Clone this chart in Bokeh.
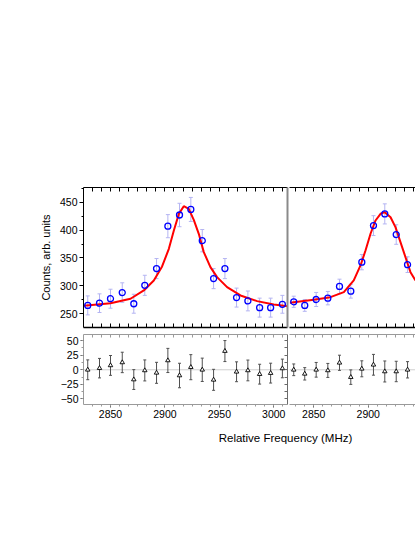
from bokeh.plotting import figure
from bokeh.models import (Range1d, Whisker, TeeHead, ColumnDataSource, LinearAxis,
                          Span, Label, SingleIntervalTicker, FixedTicker)
from bokeh.layouts import column, row
from bokeh.embed import file_html
from bokeh.resources import INLINE

# ---------------- data ----------------
freq_left = [2829.1, 2839.9, 2850.0, 2860.8, 2871.4, 2881.5, 2892.3, 2902.7, 2913.4,
             2923.8, 2934.3, 2944.7, 2955.1, 2965.8, 2976.2, 2987.0, 2997.1, 3007.9]
counts_left = [265, 269, 277, 288, 268, 301, 331, 407, 427, 437, 381, 313, 331, 279,
               273, 261, 261, 267]
err_left = [17, 16.7, 17, 17.5, 17, 18, 18, 20.7, 21, 21.5, 20, 18, 18, 17, 17.8, 17, 17, 16]
resid_left = [0, 2.8, 7.5, 12.6, -16.7, -1.1, -5.2, 16, -9.8, 4.5, 0, -17.2, 32.1,
              -3.4, -1.1, -7.5, -5.7, 2.3]

fit_left_x = [2825.5, 2850, 2868.4, 2880.6, 2889.8, 2897.4, 2903.6, 2908.2, 2912.8,
              2917.3, 2921.9, 2926.5, 2931.1, 2935.7, 2941.8, 2947.9, 2957.1, 2969.4,
              2984.7, 3000, 3014.4]
fit_left_y = [264.3, 268.9, 276.9, 291.8, 309.7, 334.8, 366.4, 399.3, 429, 442.8, 438,
              418.4, 393.3, 360.5, 333.6, 315.7, 297.8, 282.8, 272.7, 266.7, 263.1]

freq_right = [2831.6, 2841.7, 2852.2, 2862.9, 2873.6, 2884.0, 2894.1, 2904.8, 2915.2,
              2925.7, 2936.1]
counts_right = [271.5, 265, 275.6, 278, 299, 290.5, 342.5, 408, 429, 392, 338]
err_right = [10, 10.6, 12.6, 12, 13, 12.4, 13.7, 17.8, 18, 17.5, 14]
resid_right = [0, -6.9, 0, -1.1, 12, -12.6, 1.7, 8.6, -2.9, -2.9, 0]

fit_right_x = [2828.0, 2850, 2865.3, 2877.6, 2886.7, 2892.9, 2897.5, 2902.1, 2906.7,
               2911.3, 2915.2, 2920.5, 2925.0, 2929.6, 2934.2, 2938.8, 2943.4]
fit_right_y = [269.7, 275.1, 279.8, 288.7, 309.7, 336.6, 363.4, 393.4, 417.2, 429.2,
               432.1, 423.1, 405.2, 378.3, 351.4, 324.6, 309.7]

x_ticks = [2850, 2900, 2950, 3000]
resid_ticks = [-50, -25, 0, 25, 50]

FONT = "Liberation Sans"
TICK_FS = "10.5px"

X_MINOR = [2800 + 50 / 6 * k for k in range(0, 31)]      # minor x tick positions
RES_MINOR = [-50 + 12.5 * k for k in range(0, 9)]


def style_axis(ax, color="black", tick_in=0, tick_out=0, width=1, minor_len=None):
    ax.axis_line_color = color
    ax.axis_line_width = width
    ax.major_tick_line_color = color
    ax.minor_tick_line_color = color
    ax.major_tick_in = tick_in
    ax.major_tick_out = tick_out
    ml = minor_len if minor_len is not None else 2
    ax.minor_tick_in = ml if tick_in else 0
    ax.minor_tick_out = ml if tick_out else 0
    ax.major_label_text_font = FONT
    ax.major_label_text_font_size = TICK_FS
    ax.major_label_text_color = "black"
    ax.major_label_standoff = 2


def bare_axis(minor_ticks, color, width=1, tick_in=0):
    # axis with only (unlabelled) minor ticks
    ax = LinearAxis(ticker=FixedTicker(ticks=[], minor_ticks=minor_ticks))
    ax.axis_line_color = color
    ax.axis_line_width = width
    ax.minor_tick_line_color = color if tick_in else None
    ax.major_tick_line_color = None
    ax.minor_tick_in = tick_in
    ax.minor_tick_out = 0
    ax.major_tick_in = 0
    ax.major_tick_out = 0
    ax.major_label_standoff = 0
    return ax


def make_top(xr, freq, counts, err, fitx, fity, left):
    p = figure(frame_width=204 if left else 126, frame_height=140,
               x_range=xr, y_range=Range1d(225.4, 476.3),
               output_backend="svg", toolbar_location=None,
               min_border_left=83 if left else 0, min_border_right=2 if left else 0,
               min_border_top=187, min_border_bottom=7,
               x_axis_location=None,
               y_axis_location="left" if left else None,
               outline_line_color=None, background_fill_color="white",
               border_fill_color="white")
    p.xgrid.visible = False
    p.ygrid.visible = False
    p.add_layout(bare_axis(X_MINOR, "black", width=1.3, tick_in=4), "below")
    p.add_layout(bare_axis(X_MINOR, "black", width=1, tick_in=4), "above")
    if left:
        ya = p.yaxis[0]
        ya.ticker = SingleIntervalTicker(interval=50, num_minor_ticks=2)
        style_axis(ya, "black", tick_out=4)
        ya.axis_label = "Counts, arb. units"
        ya.axis_label_text_font = FONT
        ya.axis_label_text_font_size = "11px"
        ya.axis_label_text_font_style = "normal"
        ya.axis_label_text_color = "black"
        ya.axis_label_standoff = 5
        p.add_layout(bare_axis([], "#8a8a8a", width=2), "right")

    src = ColumnDataSource(dict(x=freq, y=counts,
                                lo=[c - e for c, e in zip(counts, err)],
                                hi=[c + e for c, e in zip(counts, err)]))
    w = Whisker(source=src, base="x", lower="lo", upper="hi",
                line_color="#b4b4f2", line_width=1, level="underlay",
                lower_head=TeeHead(size=4, line_color="#b4b4f2", line_width=1),
                upper_head=TeeHead(size=4, line_color="#b4b4f2", line_width=1))
    p.add_layout(w)
    p.line(fitx, fity, line_color="#ff0000", line_width=2)
    p.scatter("x", "y", source=src, marker="circle", size=6, fill_color=None,
              line_color="#0000ff", line_width=1.3)
    return p


def make_bottom(xr, freq, resid, err, left):
    p = figure(frame_width=204 if left else 126, frame_height=70,
               x_range=xr, y_range=Range1d(-59.5, 60.5),
               output_backend="svg", toolbar_location=None,
               min_border_left=83 if left else 0, min_border_right=2 if left else 0,
               min_border_top=0, min_border_bottom=20,
               y_axis_location="left" if left else None,
               outline_line_color=None, background_fill_color="white",
               border_fill_color="white")
    p.xgrid.visible = False
    p.ygrid.visible = False
    grey = "#9a9a9a"
    xa = p.xaxis[0]
    xa.ticker = FixedTicker(ticks=x_ticks, minor_ticks=X_MINOR)
    style_axis(xa, grey, tick_out=3)
    xa.major_tick_line_color = "#555555"
    p.add_layout(bare_axis(X_MINOR, grey, width=1, tick_in=3), "above")
    if left:
        ya = p.yaxis[0]
        ya.ticker = FixedTicker(ticks=resid_ticks, minor_ticks=RES_MINOR)
        style_axis(ya, grey, tick_out=3)
        ya.major_tick_line_color = "#555555"
        p.add_layout(bare_axis(RES_MINOR, "#6a6a6a", width=1, tick_in=3), "right")
    p.add_layout(Span(location=0, dimension="width", line_color="#cfcfcf",
                      line_width=1, level="underlay"))
    src = ColumnDataSource(dict(x=freq, y=resid,
                                lo=[r - e for r, e in zip(resid, err)],
                                hi=[r + e for r, e in zip(resid, err)]))
    w = Whisker(source=src, base="x", lower="lo", upper="hi",
                line_color="#505050", line_width=1,
                lower_head=TeeHead(size=3, line_color="#505050", line_width=1),
                upper_head=TeeHead(size=3, line_color="#505050", line_width=1))
    p.add_layout(w)
    p.scatter("x", "y", source=src, marker="triangle", size=4.5, fill_color="white",
              line_color="black", line_width=0.9)
    return p


xr_left = Range1d(2825.2, 3012.6)
xr_right = Range1d(2827.7, 2943.4)

tl = make_top(xr_left, freq_left, counts_left, err_left, fit_left_x, fit_left_y, True)
tr = make_top(xr_right, freq_right, counts_right, err_right, fit_right_x, fit_right_y, False)
bl = make_bottom(xr_left, freq_left, resid_left, err_left, True)
br = make_bottom(xr_right, freq_right, resid_right, err_right, False)

tfig = figure(width=415, height=30, x_range=Range1d(0, 415), y_range=Range1d(0, 30),
              x_axis_location=None, y_axis_location=None, min_border=0,
              outline_line_color=None, toolbar_location=None, output_backend="svg")
tfig.grid.visible = False
tfig.add_layout(Label(x=285, y=17, text="Relative Frequency (MHz)", text_font=FONT,
                      text_font_size="11.5px", text_align="center",
                      text_baseline="middle", text_color="black"))

p = column(row(tl, tr), row(bl, br), tfig)

open("out.html", "w").write(file_html(p, INLINE))
